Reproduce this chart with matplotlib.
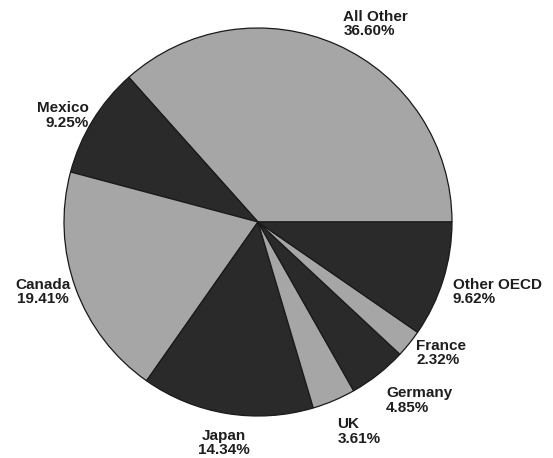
import matplotlib
matplotlib.use("Agg")
import matplotlib.pyplot as plt

# shares, counterclockwise from 3 o'clock
regions = ["All Other", "Mexico", "Canada", "Japan", "UK", "Germany", "France", "Other OECD"]
shares = [36.60, 9.25, 19.41, 14.34, 3.61, 4.85, 2.32, 9.62]

gray = "#a6a6a6"
dark = "#2a2a2a"
colors = [gray, dark, gray, dark, gray, dark, gray, dark]

# label anchor (x, y, ha) in pie-radius units
label_pos = [
    (0.44, 1.02, "left"),
    (-0.87, 0.55, "right"),
    (-1.11, -0.36, "center"),
    (-0.175, -1.14, "center"),
    (0.41, -1.08, "left"),
    (0.66, -0.92, "left"),
    (0.815, -0.675, "left"),
    (1.005, -0.36, "left"),
]

plt.rcParams["font.family"] = ["Liberation Sans", "DejaVu Sans"]

fig = plt.figure(figsize=(5.53, 4.58), dpi=100)
ax = fig.add_axes([0, 0, 1, 1])

ax.pie(shares, colors=colors, startangle=0, counterclock=True,
       wedgeprops=dict(edgecolor="#1a1a1a", linewidth=0.9))

for name, val, (x, y, ha) in zip(regions, shares, label_pos):
    ax.text(x, y, f"{name}\n{val:.2f}%", ha=ha, va="center", multialignment=ha,
            fontsize=11, fontweight="bold", color="#1e1e1e", linespacing=1.05)

# pie centre at (258, 222) px, radius 194 px
r = 194.0
ax.set_xlim(-258 / r, (553 - 258) / r)
ax.set_ylim(-(458 - 222) / r, 222 / r)
ax.set_aspect("auto")
ax.axis("off")

fig.savefig("out.png", dpi=100, facecolor="white")
